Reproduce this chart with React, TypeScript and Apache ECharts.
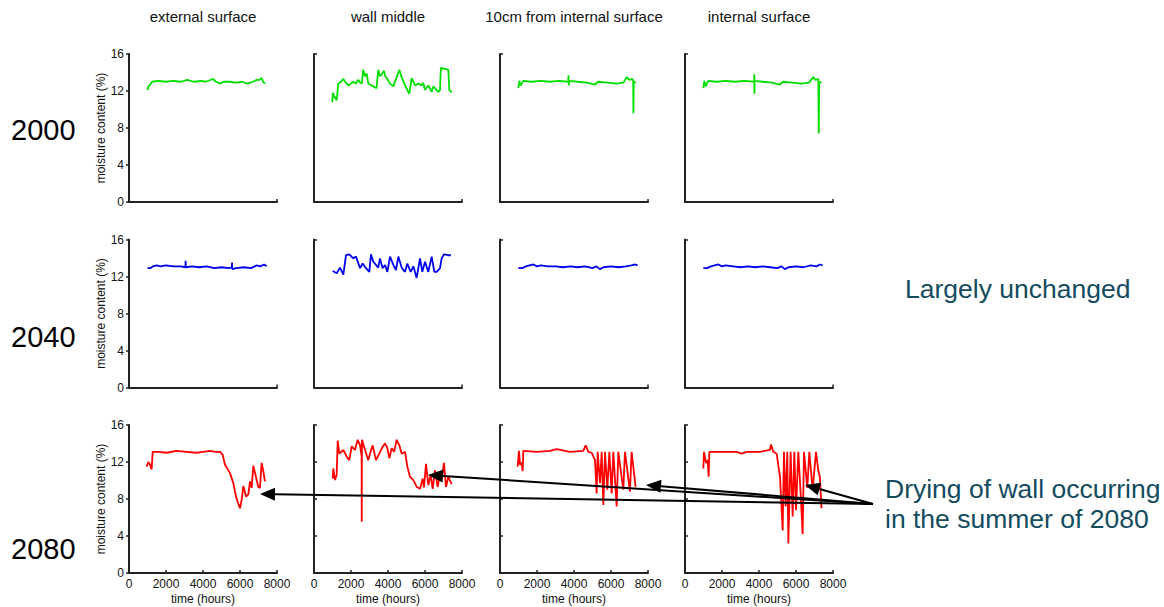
import React, { useEffect, useRef } from "react";
import * as echarts from "echarts";

const columnTitles = ["external surface", "wall middle", "10cm from internal surface", "internal surface"];
const yearLabels = ["2000", "2040", "2080"];
const rowColors = ["#00e000", "#0000ee", "#ff0000"];
const yTickStep = 4;
const xTickStep = 2000;

// 2000
const s2000Ext = [[990,12.1],[1050,12.5],[1150,12.7],[1250,13.0],[1600,13.1],[2000,13.0],[2400,13.1],[2800,13.0],[3150,13.2],[3500,13.0],[3900,13.1],[4150,13.0],[4540,13.3],[4700,13.0],[4920,12.8],[5100,13.0],[5400,13.0],[5800,12.9],[6100,13.0],[6400,12.8],[6700,13.0],[6900,13.2],[7050,13.2],[7170,13.4],[7250,13.0],[7350,12.8]];
const s2000Mid = [[990,10.8],[1020,11.8],[1100,11.4],[1225,11.0],[1315,12.8],[1450,13.0],[1585,13.3],[1720,12.9],[1855,12.6],[2000,12.8],[2125,13.0],[2250,12.8],[2400,13.2],[2500,12.9],[2580,12.8],[2665,14.3],[2750,13.6],[2845,13.9],[2935,12.8],[3100,12.6],[3206,12.5],[3380,12.3],[3470,14.3],[3560,13.6],[3660,13.8],[3780,14.2],[3850,13.6],[3930,13.4],[4110,12.8],[4290,12.5],[4470,13.5],[4613,14.3],[4740,13.5],[4920,12.6],[5150,11.7],[5280,13.4],[5460,12.6],[5640,12.8],[5820,12.6],[5900,12.9],[6000,12.1],[6180,12.6],[6360,11.9],[6450,12.5],[6540,12.3],[6720,11.9],[6810,12.1],[6860,14.5],[7080,14.4],[7260,14.3],[7315,12.1],[7440,11.85]];
const s2000Ten = [[990,12.3],[1045,13.1],[1118,12.6],[1260,13.1],[1700,13.0],[2200,13.1],[2700,13.0],[3200,13.1],[3690,13.0],[3700,13.7],[3720,12.6],[3740,13.1],[4200,13.0],[4700,12.9],[5135,12.7],[5300,13.0],[5800,12.9],[6300,12.8],[6670,12.9],[6850,13.5],[7000,13.2],[7150,13.3],[7200,13.1],[7210,9.6],[7230,13.0],[7350,12.9]];
const s2000Int = [[990,12.3],[1045,13.1],[1118,12.5],[1260,13.1],[1700,13.0],[2200,13.1],[2700,13.0],[3200,13.1],[3740,13.0],[3748,13.8],[3755,11.7],[3765,13.1],[4200,13.0],[4700,12.9],[5135,12.7],[5300,13.0],[5800,12.9],[6300,12.8],[6700,12.9],[6937,13.5],[7050,13.2],[7207,13.3],[7230,7.4],[7250,13.0],[7387,12.9]];

// 2040
const s2040Ext = [[1000,12.9],[1150,12.9],[1300,13.1],[1500,13.2],[1700,13.1],[2000,13.2],[2400,13.1],[2800,13.1],[3050,13.0],[3060,13.7],[3070,13.0],[3400,13.1],[3800,13.0],[4200,13.1],[4600,12.9],[5000,13.0],[5400,12.9],[5560,13.0],[5570,13.5],[5580,12.8],[5800,12.9],[6200,13.0],[6600,12.9],[6900,13.2],[7100,13.1],[7300,13.3],[7440,13.1]];
const s2040Mid = [[1009,12.6],[1225,12.35],[1405,12.95],[1585,12.2],[1730,14.3],[1910,14.4],[2125,13.96],[2270,14.15],[2490,12.9],[2630,13.4],[2810,12.9],[2990,12.5],[3080,14.4],[3206,13.6],[3350,13.25],[3475,12.95],[3565,13.96],[3710,12.9],[3840,13.25],[3965,12.5],[4110,14.15],[4290,13.25],[4430,12.7],[4560,14.15],[4740,12.95],[4920,12.5],[5045,13.4],[5225,12.5],[5370,13.1],[5550,11.85],[5730,13.96],[5855,12.5],[6000,13.6],[6180,12.5],[6360,14.15],[6505,12.5],[6630,12.5],[6810,12.9],[6900,13.96],[7025,14.4],[7260,14.3],[7400,14.3]];
const s2040Ten = [[990,12.9],[1200,12.9],[1400,13.1],[1600,13.2],[1800,13.3],[2000,13.1],[2200,13.2],[2600,13.1],[3000,13.1],[3400,13.0],[3800,13.1],[4200,13.0],[4600,13.1],[5000,12.9],[5200,13.1],[5400,12.8],[5600,13.0],[6000,13.1],[6400,13.0],[6800,13.1],[7100,13.2],[7300,13.3],[7440,13.2]];
const s2040Int = [[990,12.9],[1200,12.9],[1400,13.1],[1600,13.2],[1800,13.3],[2000,13.1],[2200,13.2],[2600,13.1],[3000,13.0],[3400,13.1],[3800,13.0],[4200,13.1],[4600,13.0],[5000,12.9],[5200,13.1],[5400,12.8],[5600,13.0],[6000,13.1],[6400,13.0],[6800,13.2],[7100,13.1],[7300,13.3],[7440,13.2]];

// 2080
const s2080Ext = [[954,11.5],[1045,12.0],[1135,11.7],[1225,11.2],[1280,13.1],[1600,13.1],[2033,13.0],[2575,13.2],[3116,13.1],[3657,13.0],[4000,13.1],[4378,13.2],[4700,13.1],[4920,13.1],[5060,12.8],[5190,11.7],[5460,10.8],[5640,9.7],[5785,8.26],[5910,7.5],[6000,7.0],[6090,7.9],[6180,9.4],[6325,8.26],[6450,8.5],[6540,9.9],[6630,9.2],[6720,11.6],[6860,10.4],[6990,9.3],[7080,9.2],[7170,11.9],[7260,11.0],[7350,9.9]];
const s2080Mid = [[1009,10.2],[1045,11.3],[1135,10.05],[1225,10.6],[1280,14.3],[1370,12.9],[1585,13.3],[1765,12.6],[1910,12.2],[2035,13.7],[2215,13.3],[2360,14.4],[2490,13.8],[2575,12.6],[2580,5.55],[2590,14.4],[2760,13.3],[2935,12.2],[3025,12.9],[3170,13.8],[3350,12.2],[3530,12.9],[3710,13.65],[3840,14.0],[3965,13.5],[4075,12.4],[4200,13.5],[4330,13.1],[4470,14.4],[4613,13.8],[4740,12.9],[4920,13.1],[5045,11.5],[5190,10.4],[5370,10.05],[5550,9.3],[5730,9.1],[5870,10.2],[5945,9.25],[6055,11.8],[6180,9.5],[6305,10.6],[6415,9.1],[6540,11.1],[6685,9.3],[6810,10.75],[6900,10.05],[7025,11.9],[7135,9.3],[7260,10.4],[7440,9.6]];
const s2080Ten = [[955,11.5],[1027,13.2],[1081,11.7],[1171,11.9],[1225,11.0],[1261,13.2],[1982,13.1],[2703,13.2],[3063,13.4],[3784,13.1],[4505,13.2],[4630,13.8],[4775,13.1],[4955,13.0],[5135,12.2],[5225,8.6],[5280,13.1],[5405,9.7],[5495,13.1],[5585,7.35],[5676,13.1],[5800,9.0],[5910,13.1],[6035,8.6],[6125,13.1],[6305,7.2],[6395,13.1],[6665,9.0],[6755,13.1],[7025,8.8],[7115,13.1],[7330,9.3]];
const s2080Int = [[991,11.3],[1027,13.1],[1135,11.9],[1225,12.2],[1280,10.4],[1315,13.1],[1892,13.1],[2793,13.1],[3063,12.9],[3333,13.1],[4054,13.1],[4595,13.3],[4650,13.9],[4775,13.1],[4955,12.9],[5135,10.4],[5280,4.6],[5350,13.1],[5440,7.2],[5530,13.1],[5585,3.2],[5710,13.1],[5820,6.1],[5910,13.1],[6000,6.8],[6125,13.1],[6250,8.6],[6360,4.2],[6430,13.1],[6610,9.2],[6720,13.1],[6900,9.0],[7080,13.1],[7205,11.1],[7290,10.4],[7380,7.0]];

const panelData = [
  [s2000Ext, s2000Mid, s2000Ten, s2000Int],
  [s2040Ext, s2040Mid, s2040Ten, s2040Int],
  [s2080Ext, s2080Mid, s2080Ten, s2080Int],
];

const FONT = "'Liberation Sans', Arial, Helvetica, sans-serif";
const gridLeft = [129, 314, 500, 685];
const gridTop = [54, 239.5, 425];
const gridSize = 148;
const rowLabelY = [130, 337, 549];
const arrowStart = [873, 504];
const arrowTips = [[260, 494], [428, 475], [646, 485], [805, 485]];
const noteColor = "#134b5f";

function arrowGraphics() {
  const els: any[] = [];
  for (const t of arrowTips) {
    const dx = t[0] - arrowStart[0];
    const dy = t[1] - arrowStart[1];
    const len = Math.sqrt(dx * dx + dy * dy);
    const ux = dx / len, uy = dy / len;
    const bx = t[0] - ux * 15, by = t[1] - uy * 15;
    const nx = -uy, ny = ux;
    els.push({
      type: "line",
      shape: { x1: arrowStart[0], y1: arrowStart[1], x2: bx, y2: by },
      style: { stroke: "#000", lineWidth: 2 },
      z: 100,
    });
    els.push({
      type: "polygon",
      shape: { points: [[t[0], t[1]], [bx + nx * 6.5, by + ny * 6.5], [bx - nx * 6.5, by - ny * 6.5]] },
      style: { fill: "#000" },
      z: 100,
    });
  }
  return els;
}

function textEl(text: string, x: number, y: number, size: number, color: string, align: string) {
  return {
    type: "text",
    x,
    y,
    z: 100,
    style: {
      text,
      fill: color,
      font: `${size}px ${FONT}`,
      align,
      verticalAlign: "middle",
      textAlign: align,
      textVerticalAlign: "middle",
    },
  };
}

export default function App() {
  const ref = useRef<HTMLDivElement>(null);
  useEffect(() => {
    if (!ref.current) return;
    const chart = echarts.init(ref.current, undefined, { renderer: "svg" });
    const grids: any[] = [];
    const xAxes: any[] = [];
    const yAxes: any[] = [];
    const series: any[] = [];
    for (let r = 0; r < 3; r++) {
      for (let c = 0; c < 4; c++) {
        const k = r * 4 + c;
        grids.push({ left: gridLeft[c], top: gridTop[r], width: gridSize, height: gridSize, containLabel: false });
        const lastRow = r === 2;
        const firstCol = c === 0;
        xAxes.push({
          type: "value",
          gridIndex: k,
          min: 0,
          max: 8000,
          interval: lastRow ? xTickStep : 8000,
          axisLine: { show: true, lineStyle: { color: "#222", width: 2 } },
          axisTick: { show: true, inside: true, length: 3, lineStyle: { color: "#222", width: 1.5 } },
          axisLabel: { show: lastRow, fontSize: 12, color: "#111", margin: 5, fontFamily: FONT, formatter: (v: number) => String(v) },
          splitLine: { show: false },
          name: lastRow ? "time (hours)" : "",
          nameLocation: "middle",
          nameGap: 20,
          nameTextStyle: { fontSize: 12, color: "#111", fontFamily: FONT },
        });
        yAxes.push({
          type: "value",
          gridIndex: k,
          min: 0,
          max: 16,
          interval: firstCol || lastRow ? yTickStep : 16,
          axisLine: { show: true, lineStyle: { color: "#222", width: 2 } },
          axisTick: { show: true, inside: !firstCol, length: 3, lineStyle: { color: "#222", width: 1.5 } },
          axisLabel: { show: firstCol, fontSize: 12, color: "#111", margin: 5, fontFamily: FONT },
          splitLine: { show: false },
          name: firstCol ? "moisture content (%)" : "",
          nameLocation: "middle",
          nameGap: 22,
          nameRotate: 90,
          nameTextStyle: { fontSize: 12, color: "#111", fontFamily: FONT },
        });
        series.push({
          type: "line",
          xAxisIndex: k,
          yAxisIndex: k,
          data: panelData[r][c],
          showSymbol: false,
          symbol: "none",
          lineStyle: { color: rowColors[r], width: 1.8 },
          itemStyle: { color: rowColors[r] },
        });
      }
    }
    const graphic: any[] = [];
    columnTitles.forEach((t, c) => graphic.push(textEl(t, gridLeft[c] + gridSize / 2, 16, 15, "#111", "center")));
    yearLabels.forEach((t, r) => graphic.push(textEl(t, 11, rowLabelY[r], 29, "#000", "left")));
    graphic.push(textEl("Largely unchanged", 905, 289, 26.5, noteColor, "left"));
    graphic.push(textEl("Drying of wall occurring", 885, 489, 26.5, noteColor, "left"));
    graphic.push(textEl("in the summer of 2080", 885, 519, 26.5, noteColor, "left"));
    graphic.push(...arrowGraphics());

    chart.setOption({
      animation: false,
      backgroundColor: "#fff",
      textStyle: { fontFamily: FONT },
      grid: grids,
      xAxis: xAxes,
      yAxis: yAxes,
      series,
      graphic,
    });
    return () => chart.dispose();
  }, []);
  return <div ref={ref} style={{ position: "fixed", left: 0, top: 0, width: 1164, height: 607 }} />;
}
